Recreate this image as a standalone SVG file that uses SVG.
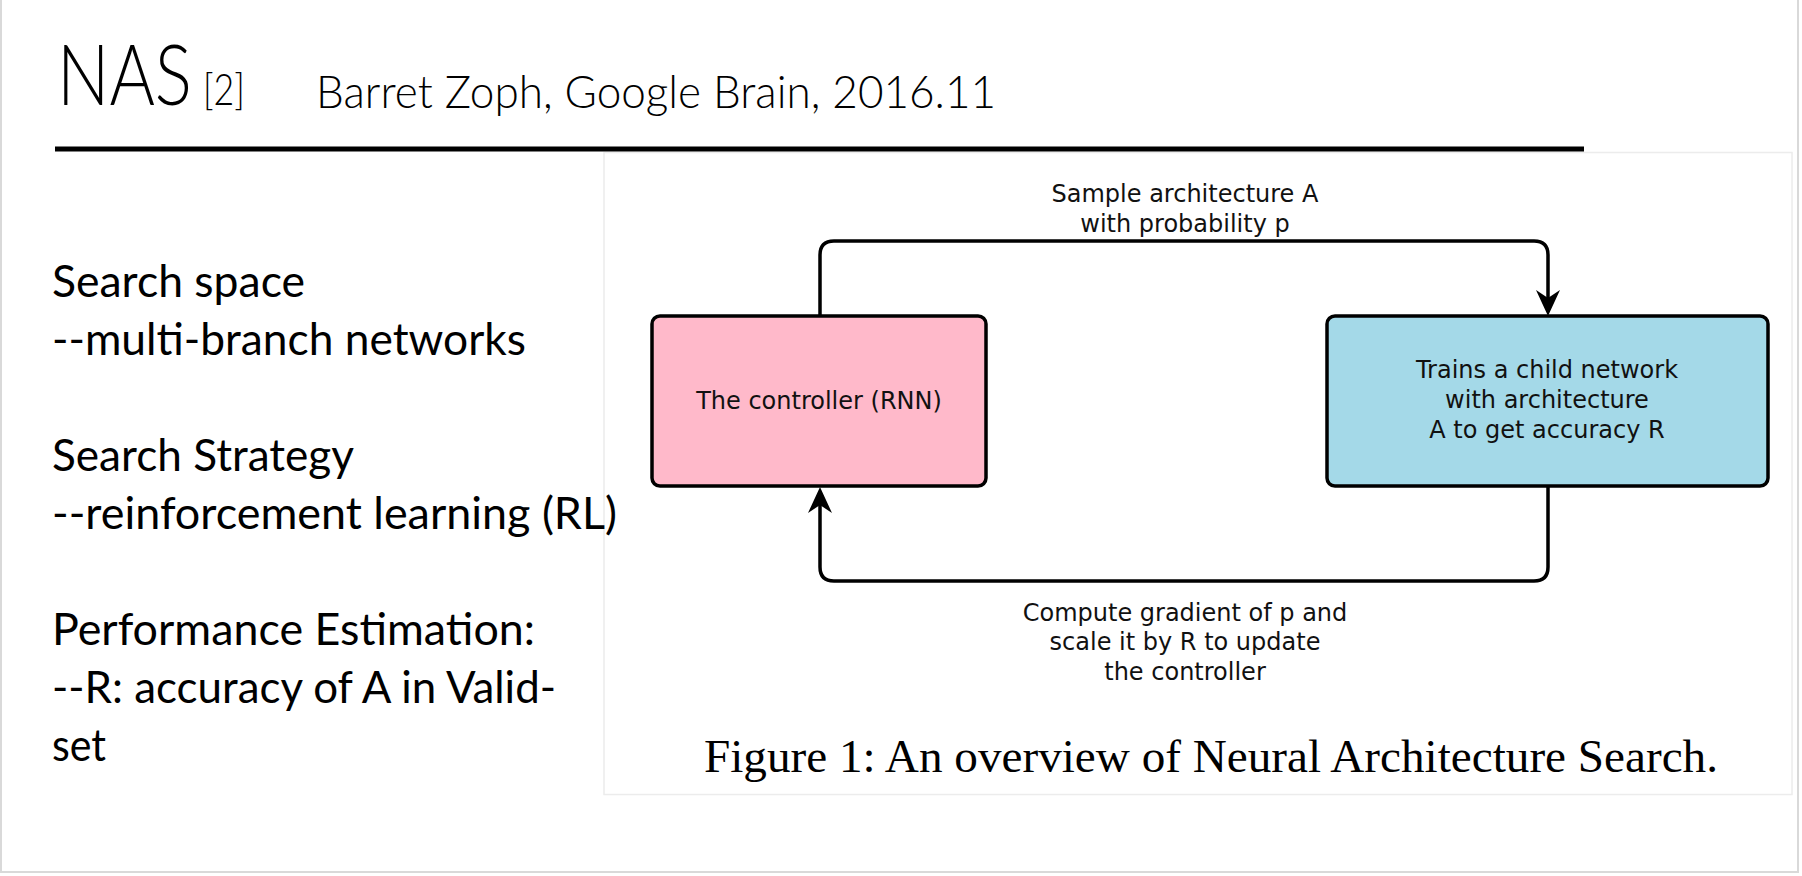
<svg xmlns="http://www.w3.org/2000/svg" width="1802" height="876" viewBox="0 0 1802 876">
  <defs>
    <style>
      .slide { font-family: Lato, "Liberation Sans", sans-serif; fill: #000; }
      .light { font-weight: 300; }
      .body { font-size: 45px; }
      .fig { font-family: "DejaVu Sans", "Liberation Sans", sans-serif; font-size: 24px; fill: #111; text-anchor: middle; }
      .cap { font-family: "Liberation Serif", "Times New Roman", serif; font-size: 46px; fill: #000; text-anchor: middle; }
      .box { stroke: #000; stroke-width: 3.5; }
      .conn { fill: none; stroke: #000; stroke-width: 3.5; }
    </style>
    <marker id="arrow" viewBox="-28 -14 30 28" markerWidth="30" markerHeight="28" refX="-18" refY="0" orient="auto" markerUnits="userSpaceOnUse">
      <path d="M0,0 L-26,-12 L-18,0 L-26,12 Z" fill="#000"/>
    </marker>
  </defs>

  <rect x="0" y="0" width="1802" height="876" fill="#fff"/>
  <rect x="1" y="-3" width="1797" height="875" fill="none" stroke="#d9d9d9" stroke-width="2"/>

  <g id="figure">
    <rect x="604" y="152.5" width="1188" height="642" fill="#fff" stroke="#ececec" stroke-width="1.5"/>
  </g>

  <g id="title">
    <text class="slide light" x="57" y="105"><tspan font-size="84" textLength="135" lengthAdjust="spacingAndGlyphs">NAS</tspan><tspan x="203" font-size="43" textLength="42" lengthAdjust="spacingAndGlyphs">[2]</tspan></text>
    <text class="slide light" x="316" y="108" font-size="46" textLength="680" lengthAdjust="spacingAndGlyphs">Barret Zoph, Google Brain, 2016.11</text>
    <line x1="55" y1="149" x2="1584" y2="149" stroke="#000" stroke-width="5"/>
  </g>

  <g id="bullets">
    <text class="slide body" x="52" y="296.5" textLength="253" lengthAdjust="spacingAndGlyphs">Search space</text>
    <text class="slide body" x="52" y="354.5" textLength="474" lengthAdjust="spacingAndGlyphs">--multi-branch networks</text>
    <text class="slide body" x="52" y="470.5" textLength="302" lengthAdjust="spacingAndGlyphs">Search Strategy</text>
    <text class="slide body" x="52" y="528.5" textLength="565" lengthAdjust="spacingAndGlyphs">--reinforcement learning (RL)</text>
    <text class="slide body" x="52" y="644.5" textLength="483" lengthAdjust="spacingAndGlyphs">Performance Estimation:</text>
    <text class="slide body" x="52" y="702.5" textLength="504" lengthAdjust="spacingAndGlyphs">--R: accuracy of A in Valid-</text>
    <text class="slide body" x="52" y="760.5" textLength="54" lengthAdjust="spacingAndGlyphs">set</text>
  </g>

  <g id="connectors">
    <path class="conn" d="M820,316 V255 Q820,241 834,241 H1534 Q1548,241 1548,255 V298" marker-end="url(#arrow)"/>
    <path class="conn" d="M1548,486 V567 Q1548,581 1534,581 H834 Q820,581 820,567 V505" marker-end="url(#arrow)"/>
    <text class="fig" x="1185" y="202">Sample architecture A</text>
    <text class="fig" x="1185" y="232">with probability p</text>
    <text class="fig" x="1185" y="621">Compute gradient of p and</text>
    <text class="fig" x="1185" y="650">scale it by R to update</text>
    <text class="fig" x="1185" y="680">the controller</text>
  </g>

  <g id="controller">
    <rect class="box" x="652" y="316" width="334" height="170" rx="8" fill="#ffb9ca"/>
    <text class="fig" x="819" y="409">The controller (RNN)</text>
  </g>

  <g id="child">
    <rect class="box" x="1327" y="316" width="441" height="170" rx="8" fill="#a4d9e8"/>
    <text class="fig" x="1547" y="378">Trains a child network</text>
    <text class="fig" x="1547" y="408">with architecture</text>
    <text class="fig" x="1547" y="438">A to get accuracy R</text>
  </g>

  <g id="caption">
    <text class="cap" x="1211" y="772" textLength="1014" lengthAdjust="spacingAndGlyphs">Figure 1: An overview of Neural Architecture Search.</text>
  </g>
</svg>
